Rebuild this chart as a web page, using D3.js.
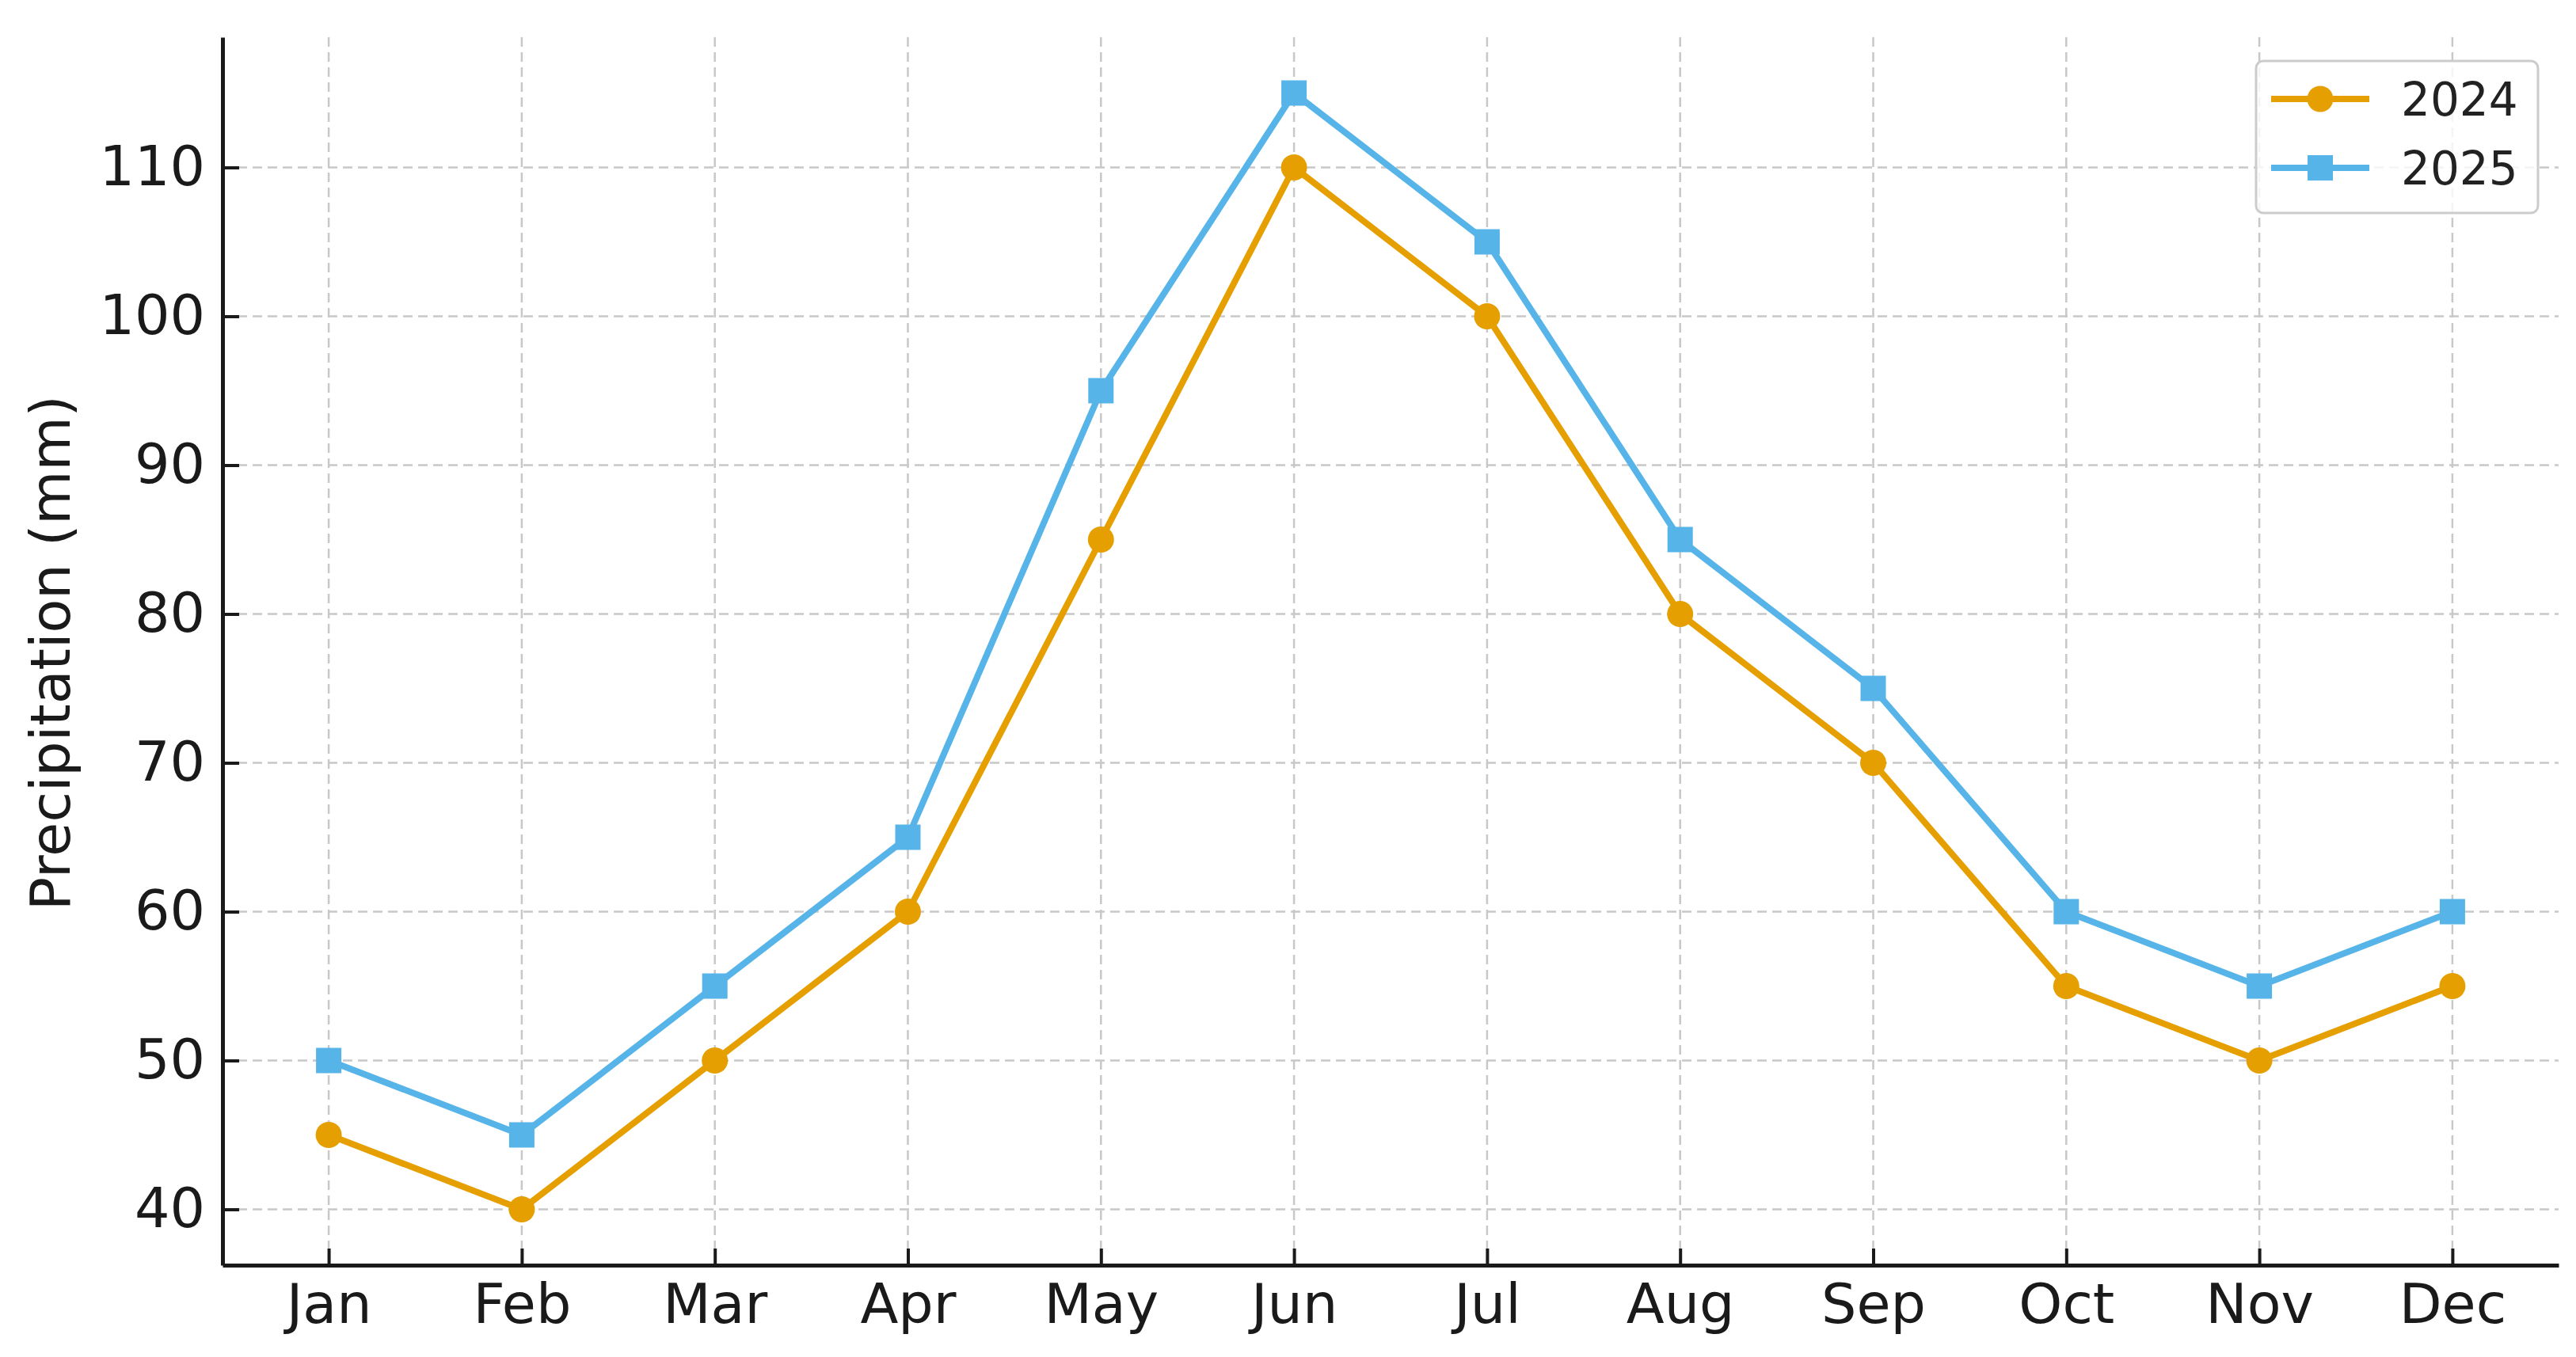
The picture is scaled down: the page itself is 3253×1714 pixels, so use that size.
<!DOCTYPE html>
<html>
<head>
<meta charset="utf-8">
<script src="https://cdn.jsdelivr.net/npm/d3@7"></script>
<style>
  html, body { margin: 0; padding: 0; background: #fff; }
  svg { display: block; font-family: "DejaVu Sans", sans-serif; }
</style>
</head>
<body>
<svg id="chart" width="3253" height="1714"></svg>
<script>
const months = ["Jan","Feb","Mar","Apr","May","Jun","Jul","Aug","Sep","Oct","Nov","Dec"];
const values2024 = [45, 40, 50, 60, 85, 110, 100, 80, 70, 55, 50, 55];
const values2025 = [50, 45, 55, 65, 95, 115, 105, 85, 75, 60, 55, 60];
const yTicks = [40, 50, 60, 70, 80, 90, 100, 110];
const seriesNames = ["2024", "2025"];
const seriesColors = ["#E69F00", "#56B4E9"];

(function () {
const svg = d3.select("#chart");
const pLeft = 281, pRight = 3231, pTop = 47, pBottom = 1598;

const x = d3.scaleLinear().domain([-0.55, 11.55]).range([pLeft, pRight]);
const y = d3.scaleLinear().domain([36.25, 118.75]).range([pBottom, pTop]);

// grid
const grid = svg.append("g");
grid.selectAll("line.v").data(months).join("line")
  .attr("x1", (d, i) => x(i)).attr("x2", (d, i) => x(i))
  .attr("y1", pTop).attr("y2", pBottom)
  .attr("stroke", "#c8c8c8").attr("stroke-width", 2.5).attr("stroke-dasharray", "12,7");
grid.selectAll("line.h").data(yTicks).join("line")
  .attr("x1", pLeft).attr("x2", pRight)
  .attr("y1", d => y(d)).attr("y2", d => y(d))
  .attr("stroke", "#c8c8c8").attr("stroke-width", 2.5).attr("stroke-dasharray", "12,7");

// axes
const xAxis = d3.axisBottom(x).tickValues(d3.range(months.length))
  .tickFormat(i => months[i]).tickSizeInner(-21).tickSizeOuter(0).tickPadding(23);
const gx = svg.append("g").attr("transform", `translate(0,${pBottom})`).call(xAxis);
gx.select(".domain").attr("stroke", "#1a1a1a").attr("stroke-width", 5);
gx.selectAll(".tick line").attr("stroke", "#1a1a1a").attr("stroke-width", 4);
gx.selectAll(".tick text").attr("font-size", 70).attr("fill", "#1a1a1a")
  .attr("font-family", "DejaVu Sans");

const yAxis = d3.axisLeft(y).tickValues(yTicks).tickSizeInner(-21).tickSizeOuter(0).tickPadding(22);
const gy = svg.append("g").attr("transform", `translate(${pLeft},0)`).call(yAxis);
gy.select(".domain").attr("stroke", "#1a1a1a").attr("stroke-width", 5);
gy.selectAll(".tick line").attr("stroke", "#1a1a1a").attr("stroke-width", 4);
gy.selectAll(".tick text").attr("font-size", 70).attr("fill", "#1a1a1a")
  .attr("font-family", "DejaVu Sans");

// y label
svg.append("text")
  .attr("transform", `translate(88,${(pTop + pBottom) / 2 + 2}) rotate(-90)`)
  .attr("text-anchor", "middle")
  .attr("font-size", 70).attr("fill", "#1a1a1a")
  .text("Precipitation (mm)");

// lines
const line = d3.line().x((d, i) => x(i)).y(d => y(d));
const allSeries = [values2024, values2025];
allSeries.forEach((vals, si) => {
  svg.append("path").datum(vals)
    .attr("d", line).attr("fill", "none")
    .attr("stroke", seriesColors[si]).attr("stroke-width", 8)
    .attr("stroke-linejoin", "round");
  if (si === 0) {
    svg.append("g").selectAll("circle").data(vals).join("circle")
      .attr("cx", (d, i) => x(i)).attr("cy", d => y(d)).attr("r", 16.5)
      .attr("fill", seriesColors[si]);
  } else {
    svg.append("g").selectAll("rect").data(vals).join("rect")
      .attr("x", (d, i) => x(i) - 16).attr("y", d => y(d) - 16)
      .attr("width", 32).attr("height", 32)
      .attr("fill", seriesColors[si]);
  }
});

// legend
const lg = svg.append("g");
lg.append("rect").attr("x", 2849).attr("y", 77).attr("width", 356).attr("height", 192)
  .attr("rx", 9).attr("fill", "rgba(255,255,255,0.8)")
  .attr("stroke", "#cccccc").attr("stroke-width", 3);
const legY = [125, 212];
seriesNames.forEach((name, si) => {
  const g = lg.append("g");
  g.append("line").attr("x1", 2868).attr("x2", 2992).attr("y1", legY[si]).attr("y2", legY[si])
    .attr("stroke", seriesColors[si]).attr("stroke-width", 8);
  if (si === 0) {
    g.append("circle").attr("cx", 2930).attr("cy", legY[si]).attr("r", 16.5).attr("fill", seriesColors[si]);
  } else {
    g.append("rect").attr("x", 2914).attr("y", legY[si] - 16).attr("width", 32).attr("height", 32)
      .attr("fill", seriesColors[si]);
  }
  g.append("text").attr("x", 3032).attr("y", legY[si] + 21)
    .attr("font-size", 58).attr("fill", "#222").text(name);
});
})();
</script>
</body>
</html>
